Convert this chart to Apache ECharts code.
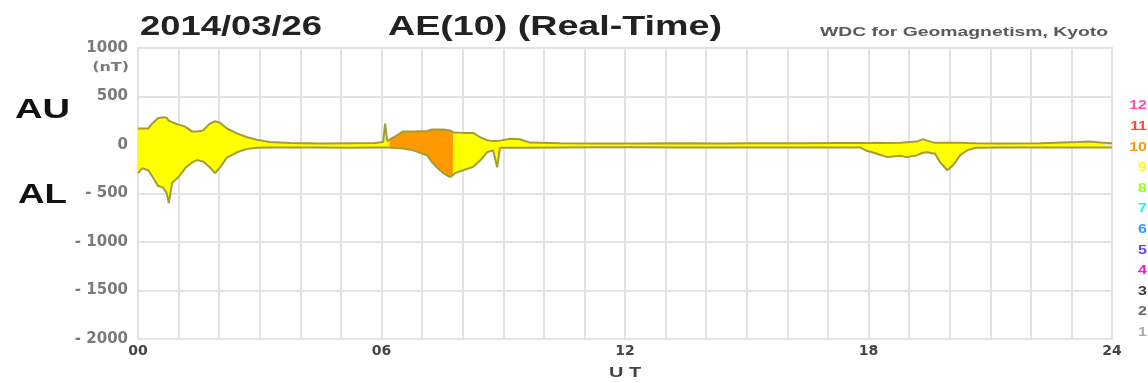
<!DOCTYPE html>
<html>
<head>
<meta charset="utf-8">
<script src="https://cdn.jsdelivr.net/npm/echarts@6/dist/echarts.min.js"></script>
<style>
html,body{margin:0;padding:0;background:#fff;}
#chart{width:1148px;height:383px;}
</style>
</head>
<body>
<div id="chart"></div>
<script>
// ---- data ----
const hours = [0.00,0.10,0.25,0.37,0.49,0.62,0.71,0.76,0.84,0.99,1.16,1.33,1.45,1.60,1.77,1.90,2.02,2.19,2.44,2.69,2.93,3.25,3.75,4.48,5.22,5.84,6.04,6.09,6.14,6.20,6.26,6.38,6.53,6.78,7.12,7.24,7.39,7.52,7.69,7.76,7.81,8.01,8.26,8.43,8.60,8.75,8.85,8.92,9.17,9.41,9.66,10.40,11.38,12.37,13.36,14.34,15.33,16.31,17.30,17.79,17.96,18.21,18.46,18.78,18.95,19.20,19.34,19.44,19.64,19.76,19.94,20.08,20.26,20.43,20.63,21.24,22.23,23.14,23.46,23.71,24.00];
const AU = [170,170,170,230,275,285,280,250,235,210,190,140,140,150,220,245,230,170,120,80,55,30,20,15,18,20,30,220,40,55,70,100,140,140,145,160,160,160,150,130,130,125,125,80,50,40,40,45,65,60,25,18,15,15,18,15,18,18,20,20,20,22,20,22,28,35,60,45,22,22,22,22,22,20,18,15,18,30,35,25,18];
const AL = [-290,-240,-260,-335,-420,-440,-500,-600,-390,-335,-240,-180,-155,-170,-230,-290,-230,-130,-75,-40,-28,-25,-25,-25,-28,-25,-25,-25,-25,-25,-28,-30,-35,-55,-105,-175,-240,-290,-330,-310,-290,-260,-225,-160,-75,-55,-230,-28,-28,-28,-28,-25,-22,-22,-25,-25,-25,-25,-25,-25,-60,-90,-125,-110,-125,-105,-80,-75,-90,-175,-260,-210,-105,-55,-28,-25,-25,-25,-25,-25,-25];
const stations = hours.map(h => 9);
for (let i = 0; i < hours.length; i++) { if (hours[i] >= 6.20 && hours[i] <= 7.76) stations[i] = 10; }

const xTickLabels = {0:'00', 6:'06', 12:'12', 18:'18', 24:'24'};
const yTickLabels = {1000:'1000', 500:'500', 0:'0', '-500':'- 500', '-1000':'- 1000', '-1500':'- 1500', '-2000':'- 2000'};
const levelLabels = ['12','11','10','9','8','7','6','5','4','3','2','1'];
const levelColors = ['#ff4fa0','#ff4a35','#ff9900','#ffff00','#99ff11','#11ffdd','#3399ff','#6644ff','#ee11ee','#333333','#666666','#aaaaaa'];
const levelValues = [12,11,10,9,8,7,6,5,4,3,2,1];

// ---- helpers ----
const ctx = document.createElement('canvas').getContext('2d');
function fitScale(text, font, width) { ctx.font = font; return width / ctx.measureText(text).width; }
function colorFor(n) { return levelColors[levelValues.indexOf(n)]; }

const levels = [...new Set(stations)].sort((a,b)=>a-b);
const fillSeries = [];
levels.forEach((lv, k) => {
  const useAll = k === 0;
  [AU, AL].forEach(arr => {
    fillSeries.push({
      type: 'line', silent: true, showSymbol: false, animation: false,
      lineStyle: {width: 0}, z: 2 + k,
      areaStyle: {color: colorFor(lv), opacity: 1},
      data: hours.map((h, i) => [h, (useAll || stations[i] === lv) ? arr[i] : null])
    });
  });
});
const lineColor = '#a59c38';
const lineSeries = [AU, AL].map(arr => ({
  type: 'line', silent: true, showSymbol: false, animation: false, z: 10,
  lineStyle: {color: lineColor, width: 2},
  data: hours.map((h, i) => [h, arr[i]])
}));

const SX = 1.33;
const titleFont = 'bold 28px "Liberation Sans"';
const graphics = [
  {type:'text', x:140, y:27, scaleX: fitScale('2014/03/26', titleFont, 182), style:{text:'2014/03/26', font:titleFont, fill:'#222', align:'left', verticalAlign:'middle'}},
  {type:'text', x:388, y:27, scaleX: fitScale('AE(10) (Real-Time)', titleFont, 334), style:{text:'AE(10) (Real-Time)', font:titleFont, fill:'#222', align:'left', verticalAlign:'middle'}},
  {type:'text', x:820, y:33, scaleX: fitScale('WDC for Geomagnetism, Kyoto', 'bold 12px "Liberation Sans"', 288), style:{text:'WDC for Geomagnetism, Kyoto', font:'bold 12px "Liberation Sans"', fill:'#5a5a5a', align:'left', verticalAlign:'middle'}},
  {type:'text', x:15, y:110, scaleX: fitScale('AU', titleFont, 55), style:{text:'AU', font:titleFont, fill:'#111', align:'left', verticalAlign:'middle'}},
  {type:'text', x:18, y:195, scaleX: fitScale('AL', titleFont, 49), style:{text:'AL', font:titleFont, fill:'#111', align:'left', verticalAlign:'middle'}},
  {type:'text', x:129, y:68, scaleX: SX, style:{text:'(nT)', font:'bold 12px "DejaVu Sans"', fill:'#7a7a7a', align:'right', verticalAlign:'middle'}},
  {type:'text', x:625, y:373, scaleX: SX, style:{text:'U T', font:'bold 15px "Liberation Sans"', fill:'#444', align:'center', verticalAlign:'middle'}}
];
levelLabels.forEach((t, i) => {
  graphics.push({type:'text', x:1147, y:106 + i*20.6, scaleX: SX, style:{text:t, font:'bold 12px "Liberation Sans"', fill:levelColors[i], align:'right', verticalAlign:'middle'}});
});

const gridColor = '#e2e2e2';
const chart = echarts.init(document.getElementById('chart'), null, {renderer:'canvas'});
chart.setOption({
  animation: false,
  backgroundColor: '#fff',
  grid: {left:138, right:36, top:48, bottom:44, show:true, borderColor:gridColor, borderWidth:2},
  xAxis: {
    type:'value', min:0, max:24, interval:6,
    axisLine:{show:true, lineStyle:{color:gridColor, width:2}},
    axisTick:{show:false},
    splitLine:{show:true, lineStyle:{color:gridColor, width:2}},
    minorTick:{show:false, splitNumber:6},
    minorSplitLine:{show:true, lineStyle:{color:gridColor, width:2}},
    axisLabel:{margin:5, fontFamily:'DejaVu Sans', fontWeight:'bold', fontSize:14, color:'#444',
      formatter: v => xTickLabels[v] !== undefined ? xTickLabels[v] : ''}
  },
  yAxis: {
    type:'value', min:-2000, max:1000, interval:500,
    axisLine:{show:true, lineStyle:{color:gridColor, width:2}},
    axisTick:{show:false},
    splitLine:{show:true, lineStyle:{color:gridColor, width:2}},
    axisLabel:{margin:10, fontFamily:'DejaVu Sans', fontWeight:'bold', fontSize:15, color:'#7a7a7a',
      formatter: v => yTickLabels[v] !== undefined ? yTickLabels[v] : String(v)}
  },
  graphic: graphics,
  series: fillSeries.concat(lineSeries)
});
</script>
</body>
</html>
